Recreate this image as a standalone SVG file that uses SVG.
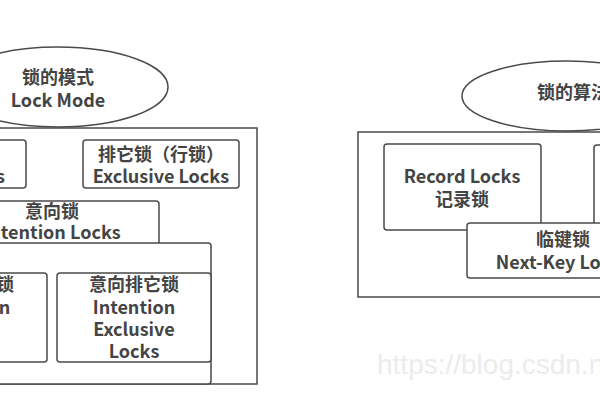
<svg xmlns="http://www.w3.org/2000/svg" width="600" height="400" viewBox="0 0 600 400">
<style>
.b{fill:#fff;stroke:#4a4a4a;stroke-width:1.5}
.t{font-family:"Noto Sans CJK SC","Noto Sans",sans-serif;font-size:18px;font-weight:bold;fill:#444;text-anchor:middle}
.w{font-family:"Liberation Sans",Arial,sans-serif;font-size:28px;fill:#ececec}
</style>
<rect width="600" height="400" fill="#fff"/>
<g id="lock-mode">
<ellipse class="b" cx="58" cy="87" rx="110" ry="40"/>
<text class="t" x="58" y="84">锁的模式</text>
<text class="t" x="58" y="107">Lock Mode</text>
</g>
<g id="mode-container"><rect class="b" x="-20" y="128" width="277" height="256"/></g>
<g id="shared-locks">
<rect class="b" x="-120" y="140" width="146" height="48" rx="3"/>
<text class="t" x="-55" y="161">共享锁（行锁）</text>
<text class="t" x="-54" y="183">Shared Locks</text>
</g>
<g id="exclusive-locks">
<rect class="b" x="83" y="140" width="156" height="48" rx="3"/>
<text class="t" x="161" y="161">排它锁（行锁）</text>
<text class="t" x="161" y="183">Exclusive Locks</text>
</g>
<g id="intention-locks">
<rect class="b" x="-60" y="201" width="219" height="80" rx="3"/>
<text class="t" x="52" y="218">意向锁</text>
<text class="t" x="52" y="239">Intention Locks</text>
</g>
<g id="intention-group"><rect class="b" x="-40" y="243" width="251" height="141" rx="3"/></g>
<g id="intention-shared">
<rect class="b" x="-110" y="273" width="157" height="89" rx="3"/>
<text class="t" x="-31" y="291">意向共享锁</text>
<text class="t" x="-31" y="314">Intention</text>
<text class="t" x="-31" y="336">Shared</text>
<text class="t" x="-31" y="358">Locks</text>
</g>
<g id="intention-exclusive">
<rect class="b" x="57" y="273" width="154" height="89" rx="3"/>
<text class="t" x="134" y="291">意向排它锁</text>
<text class="t" x="134" y="314">Intention</text>
<text class="t" x="134" y="336">Exclusive</text>
<text class="t" x="134" y="358">Locks</text>
</g>
<g id="lock-algorithm">
<ellipse class="b" cx="567" cy="96" rx="105" ry="35"/>
<text class="t" x="573" y="99">锁的算法</text>
</g>
<g id="algorithm-container"><rect class="b" x="358" y="132" width="300" height="165"/></g>
<g id="record-locks">
<rect class="b" x="384" y="144" width="157" height="86" rx="3"/>
<text class="t" x="462" y="183">Record Locks</text>
<text class="t" x="462" y="206">记录锁</text>
</g>
<g id="gap-locks"><rect class="b" x="594" y="145" width="120" height="85" rx="3"/></g>
<g id="next-key-locks">
<rect class="b" x="467" y="223" width="190" height="55" rx="3"/>
<text class="t" x="563" y="246">临键锁</text>
<text class="t" x="563" y="269">Next-Key Locks</text>
</g>
<text class="w" x="377" y="374">https://blog.csdn.net</text>
</svg>
